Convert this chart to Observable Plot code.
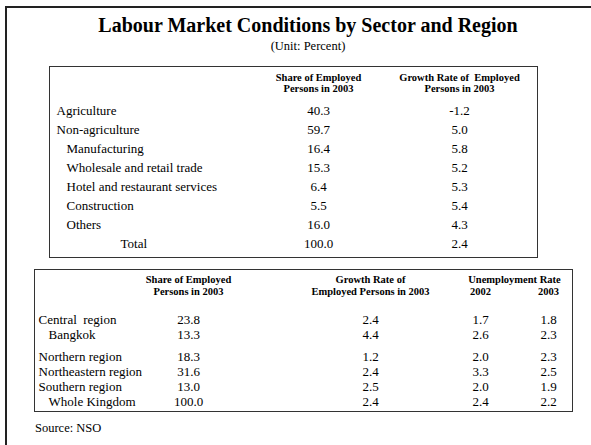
<!DOCTYPE html>
<html><head><meta charset="utf-8">
<script src="https://cdn.jsdelivr.net/npm/d3@7"></script>
<script src="https://cdn.jsdelivr.net/npm/@observablehq/plot@0.6"></script>
<style>
body{margin:0;background:#fff;font-family:"Liberation Serif",serif;color:#000;}
#page{position:relative;width:591px;height:445px;overflow:hidden;background:#fff;}
#frame{position:absolute;left:5px;top:6px;width:700px;height:600px;border-top:2px solid #222;border-left:2px solid #222;}
#title{position:absolute;left:0;width:616px;top:14px;text-align:center;font-weight:bold;font-size:20px;line-height:22px;}
#unit{position:absolute;left:0;width:616px;top:39px;text-align:center;font-size:12.5px;line-height:14px;}
#t1,#t2{position:absolute;display:block;border:1.5px solid #333;background:#fff;}
#t1{left:49px;top:66px;}
#t2{left:34px;top:269px;}
#source{position:absolute;left:35px;top:421px;font-size:12.5px;line-height:14px;}
</style>
</head><body>
<div id="page">
<div id="frame"></div>
<div id="title">Labour Market Conditions by Sector and Region</div>
<div id="unit">(Unit: Percent)</div>
<div id="source">Source: NSO</div>
</div>
<script>
// ---- Table 1: by sector ----
const sectors = ["Agriculture","Non-agriculture","Manufacturing","Wholesale and retail trade","Hotel and restaurant services","Construction","Others","Total"];
const sectorLevel = [0,0,1,1,1,1,1,2];
const sectorShare = [40.3,59.7,16.4,15.3,6.4,5.5,16.0,100.0];
const sectorGrowth = [-1.2,5.0,5.8,5.2,5.3,5.4,4.3,2.4];
const sectorHeaders = ["Share of Employed\nPersons in 2003","Growth Rate of  Employed\nPersons in 2003"];

// ---- Table 2: by region ----
const regions = ["Central  region","Bangkok","Northern region","Northeastern region","Southern region","Whole Kingdom"];
const regionLevel = [0,1,0,0,0,1];
const regionGroup = [1,1,2,2,2,2];
const regionShare = [23.8,13.3,18.3,31.6,13.0,100.0];
const regionGrowth = [2.4,4.4,1.2,2.4,2.5,2.4];
const unemp2002 = [1.7,2.6,2.0,3.3,2.0,2.4];
const unemp2003 = [1.8,2.3,2.3,2.5,1.9,2.2];
const regionHeadTop = ["Share of Employed","Growth Rate of","Unemployment Rate"];
const regionHeadTopCol = [0,1,2.5];
const regionHeadBottom = ["Persons in 2003","Employed Persons in 2003","2002","2003"];
const regionHeadBottomCol = [0,1,2,3];

const fmt = v => v.toFixed(1);
const baseStyle = {fontFamily:"'Liberation Serif', serif", fontSize:"13px", color:"#000", background:"#fff", overflow:"visible"};

const t1 = sectors.map((name,i)=>({name, level:sectorLevel[i]}));
const t1cells = sectors.flatMap((name,i)=>[{name,col:0,value:sectorShare[i]},{name,col:1,value:sectorGrowth[i]}]);

const p1 = Plot.plot({
  width:487, height:190, margin:0,
  x:{type:"linear", domain:[0,1], range:[268,409], axis:null},
  y:{type:"point", domain:sectors, range:[40,178], padding:0, axis:null},
  style:baseStyle,
  marks:[
    Plot.text(t1.filter(d=>d.level===0),{y:"name",text:"name",frameAnchor:"left",textAnchor:"start",dx:6}),
    Plot.text(t1.filter(d=>d.level===1),{y:"name",text:"name",frameAnchor:"left",textAnchor:"start",dx:16}),
    Plot.text(t1.filter(d=>d.level===2),{y:"name",text:"name",frameAnchor:"left",textAnchor:"start",dx:70}),
    Plot.text(t1cells,{x:"col",y:"name",text:d=>fmt(d.value)}),
    Plot.text(sectorHeaders,{x:(d,i)=>i,text:d=>d,frameAnchor:"top",lineAnchor:"top",dy:5,fontWeight:"bold",fontSize:10.5,lineHeight:1.1})
  ]
});
p1.id = "t1";

const t2 = regions.map((name,i)=>({name, level:regionLevel[i], group:regionGroup[i]}));
const t2cells = regions.flatMap((name,i)=>[
  {name,group:regionGroup[i],col:0,value:regionShare[i]},
  {name,group:regionGroup[i],col:1,value:regionGrowth[i]},
  {name,group:regionGroup[i],col:2,value:unemp2002[i]},
  {name,group:regionGroup[i],col:3,value:unemp2003[i]}
]);
const gap = 7;
const p2 = Plot.plot({
  width:537, height:141, margin:0,
  x:{type:"linear", domain:[0,1,2,3], range:[153,335,445,513], axis:null},
  y:{type:"point", domain:regions, range:[49,124], padding:0, axis:null},
  style:baseStyle,
  marks:[
    ...[1,2].flatMap(g=>[
      Plot.text(t2.filter(d=>d.group===g && d.level===0),{y:"name",text:"name",frameAnchor:"left",textAnchor:"start",dx:3,dy:g===1?0:gap}),
      Plot.text(t2.filter(d=>d.group===g && d.level===1),{y:"name",text:"name",frameAnchor:"left",textAnchor:"start",dx:13,dy:g===1?0:gap}),
      Plot.text(t2cells.filter(d=>d.group===g),{x:"col",y:"name",text:d=>fmt(d.value),dy:g===1?0:gap})
    ]),
    Plot.text(regionHeadTop,{x:(d,i)=>regionHeadTopCol[i],text:d=>d,frameAnchor:"top",lineAnchor:"middle",dy:9,fontWeight:"bold",fontSize:10.5}),
    Plot.text(regionHeadBottom,{x:(d,i)=>regionHeadBottomCol[i],text:d=>d,frameAnchor:"top",lineAnchor:"middle",dy:21,fontWeight:"bold",fontSize:10.5})
  ]
});
p2.id = "t2";

const page = document.getElementById("page");
page.appendChild(p1);
page.appendChild(p2);
</script>
</body></html>
